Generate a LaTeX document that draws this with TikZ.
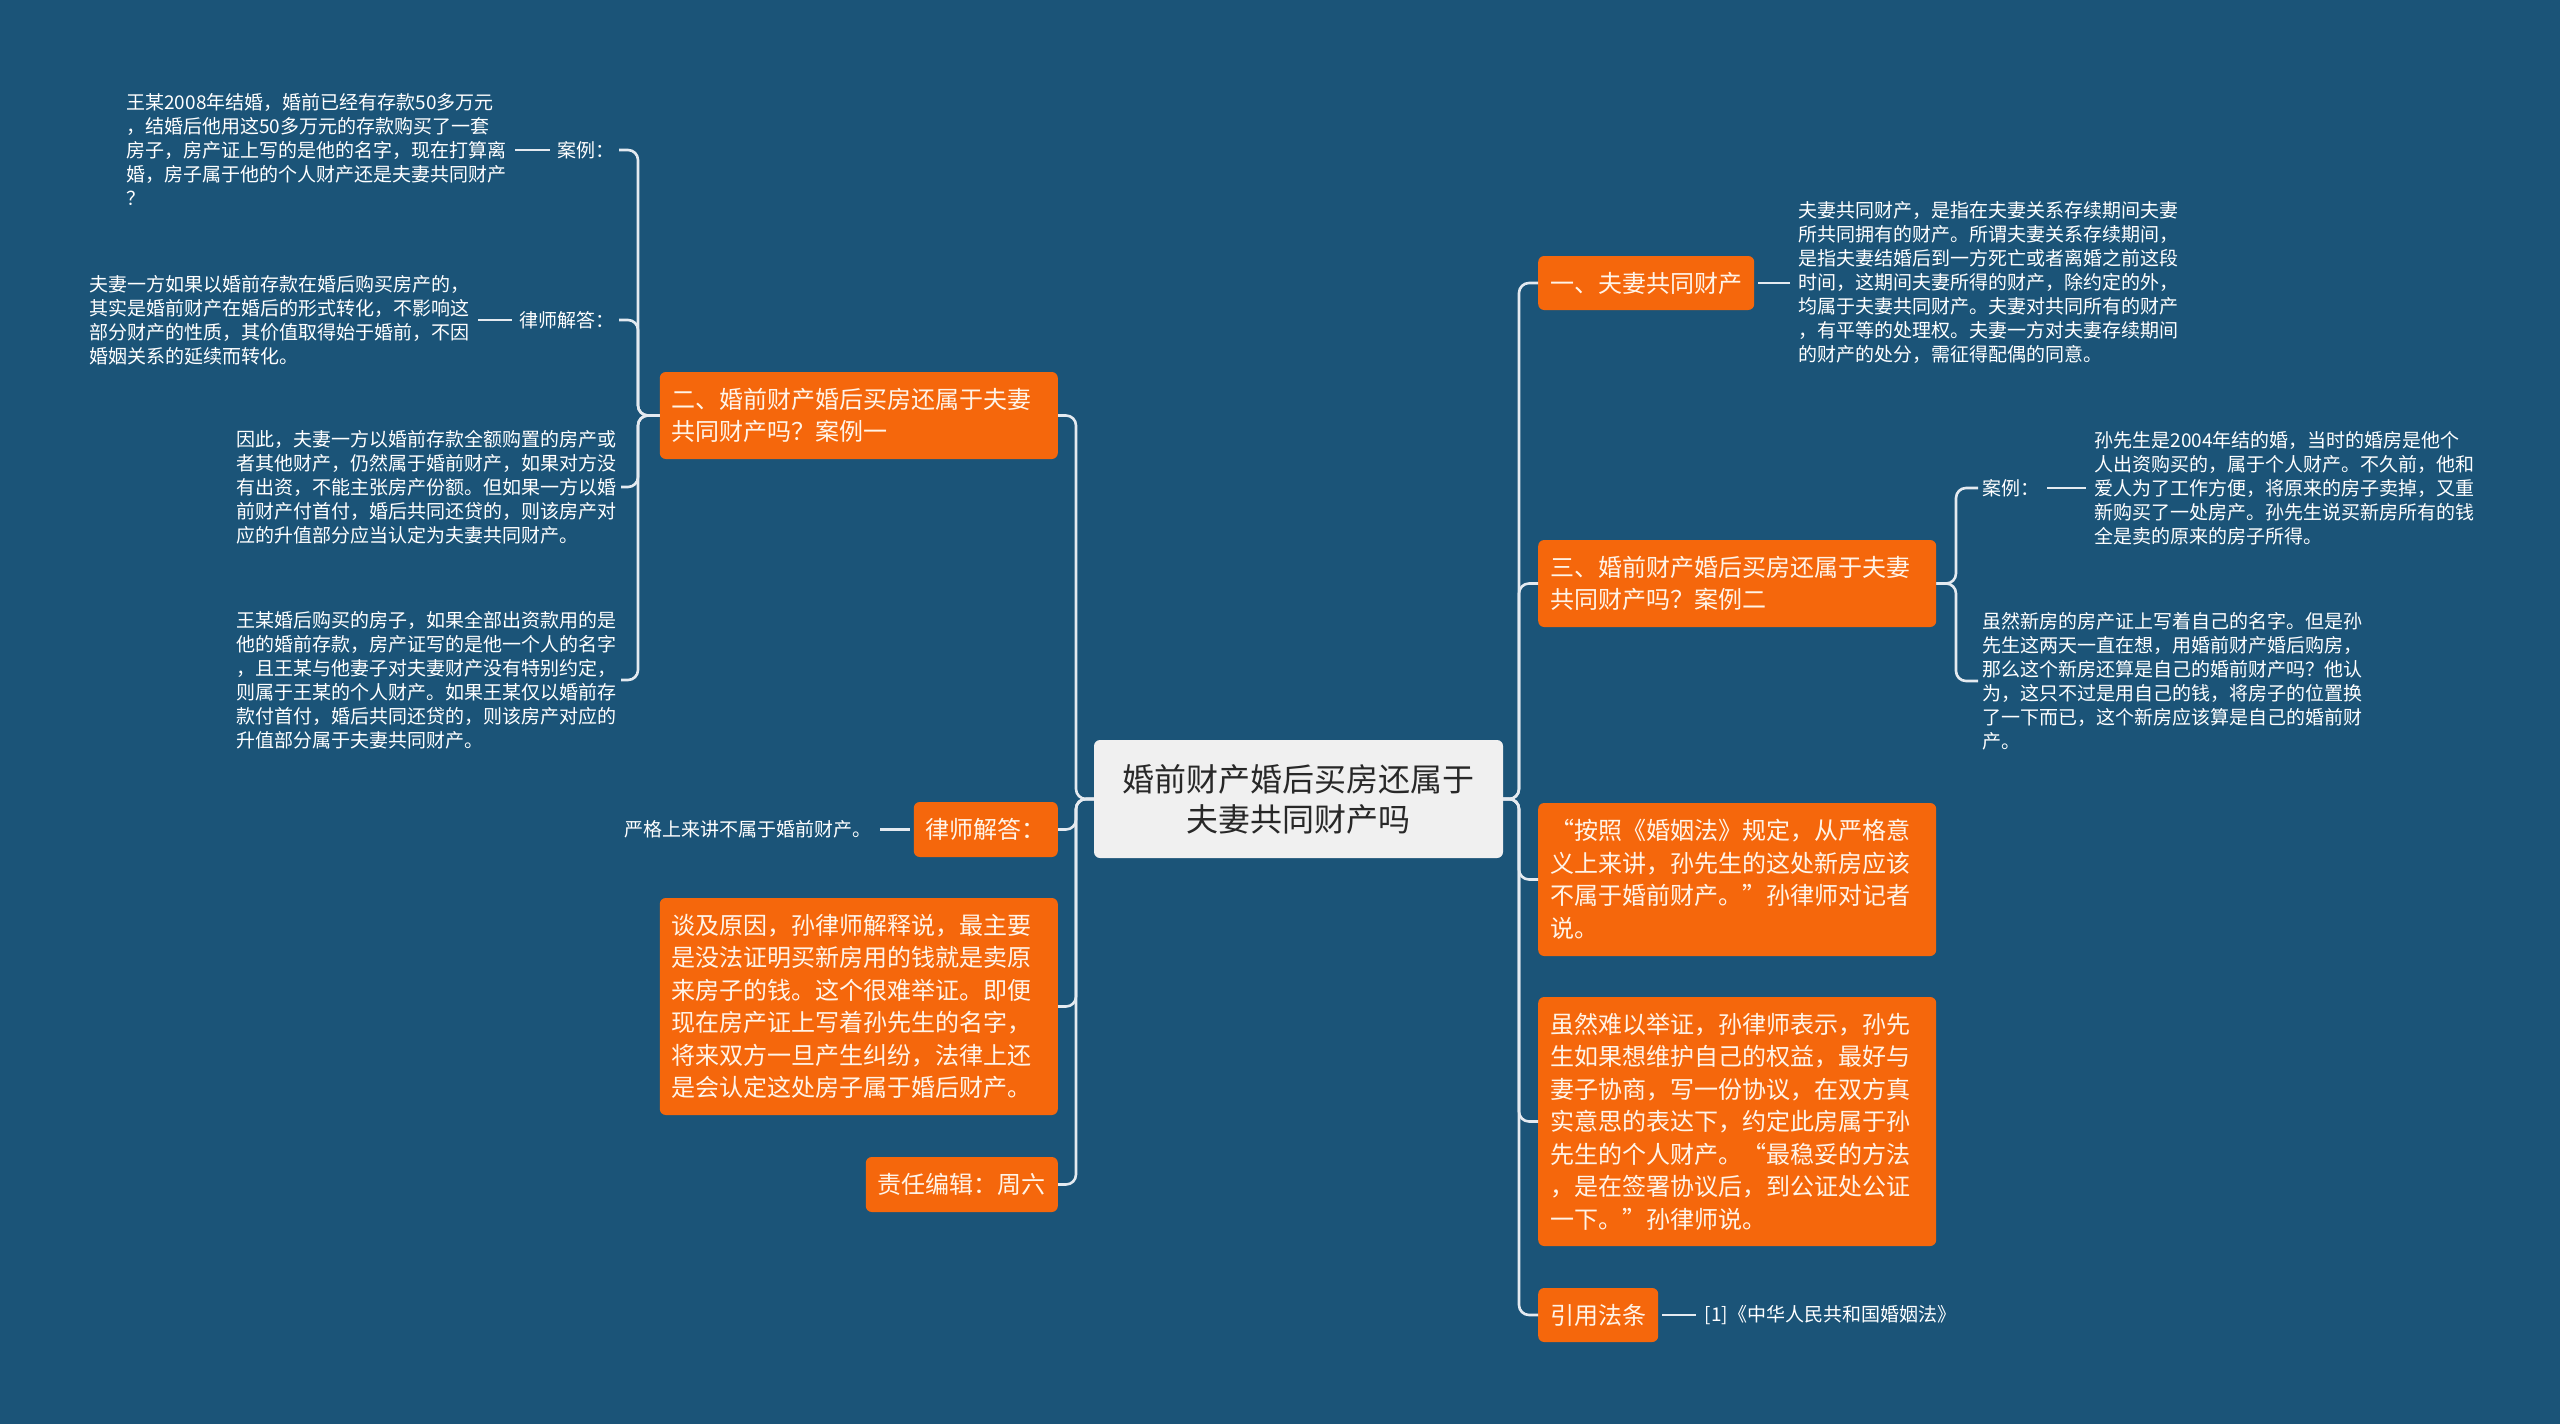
\documentclass[tikz,border=0pt]{standalone}
\usepackage{fontspec}
\newfontfamily\cjk{Noto Sans CJK SC}
\usepackage{tikz}
\usetikzlibrary{positioning}

\definecolor{bgblue}{RGB}{27,84,120}
\definecolor{oranfill}{RGB}{245,103,12}
\definecolor{rootfill}{RGB}{240,240,240}
\definecolor{roottext}{RGB}{40,40,40}
\definecolor{linegray}{RGB}{228,234,240}
\definecolor{cream}{RGB}{255,244,232}

\begin{document}
\begin{tikzpicture}[
  x=1pt, y=-1pt,
  root/.style={fill=rootfill, rounded corners=6pt, align=center, text=roottext,
               font=\cjk\fontsize{32}{40}\selectfont,
               minimum width=409pt, minimum height=118pt},
  obox/.style={fill=oranfill, rounded corners=6pt, text=cream, align=left,
               font=\cjk\fontsize{24}{32.5}\selectfont,
               inner xsep=12pt, inner ysep=8pt, minimum height=55pt},
  wide/.style={text width=374pt},
  note/.style={text=white, align=left, font=\cjk\fontsize{19}{24}\selectfont, inner sep=4pt},
  conn/.style={draw=linegray, line width=2.6pt, rounded corners=10pt},
  link/.style={conn, shorten <=4pt, shorten >=4pt}
]
  \fill[bgblue] (0,0) rectangle (2560,1424);

  \node[root] (title) at (1298.5,799) {婚前财产婚后买房还属于\\夫妻共同财产吗};

  % left side
  \node[obox, wide, anchor=east, minimum height=87pt] (case1) at (1058,415.5)
    {二、婚前财产婚后买房还属于夫妻\\共同财产吗？案例一};
  \node[obox, anchor=east] (lawyer) at (1058,829.5) {律师解答：};
  \node[obox, wide, anchor=east, minimum height=217pt] (reason) at (1058,1006.5)
    {谈及原因，孙律师解释说，最主要\\是没法证明买新房用的钱就是卖原\\来房子的钱。这个很难举证。即便\\现在房产证上写着孙先生的名字，\\将来双方一旦产生纠纷，法律上还\\是会认定这处房子属于婚后财产。};
  \node[obox, anchor=east] (editor) at (1058,1184.5) {责任编辑：周六};

  \node[note, anchor=east] (case1lab) at (619,150) {案例：};
  \node[note, left=43pt of case1lab] (case1txt)
    {王某2008年结婚，婚前已经有存款50多万元\\，结婚后他用这50多万元的存款购买了一套\\房子，房产证上写的是他的名字，现在打算离\\婚，房子属于他的个人财产还是夫妻共同财产\\？};
  \node[note, anchor=east] (ans1lab) at (619,320) {律师解答：};
  \node[note, left=42pt of ans1lab] (ans1txt)
    {夫妻一方如果以婚前存款在婚后购买房产的，\\其实是婚前财产在婚后的形式转化，不影响这\\部分财产的性质，其价值取得始于婚前，不因\\婚姻关系的延续而转化。};
  \node[note, anchor=east] (rule1) at (621,487)
    {因此，夫妻一方以婚前存款全额购置的房产或\\者其他财产，仍然属于婚前财产，如果对方没\\有出资，不能主张房产份额。但如果一方以婚\\前财产付首付，婚后共同还贷的，则该房产对\\应的升值部分应当认定为夫妻共同财产。};
  \node[note, anchor=east] (rule2) at (621,680)
    {王某婚后购买的房子，如果全部出资款用的是\\他的婚前存款，房产证写的是他一个人的名字\\，且王某与他妻子对夫妻财产没有特别约定，\\则属于王某的个人财产。如果王某仅以婚前存\\款付首付，婚后共同还贷的，则该房产对应的\\升值部分属于夫妻共同财产。};
  \node[note, left=38pt of lawyer] (strict) {严格上来讲不属于婚前财产。};

  % right side
  \node[obox, anchor=west, minimum height=54pt] (common) at (1538,283) {一、夫妻共同财产};
  \node[obox, wide, anchor=west, minimum height=87pt] (case2) at (1538,583.5)
    {三、婚前财产婚后买房还属于夫妻\\共同财产吗？案例二};
  \node[obox, wide, anchor=west, minimum height=153pt] (quote) at (1538,879.5)
    {“按照《婚姻法》规定，从严格意\\义上来讲，孙先生的这处新房应该\\不属于婚前财产。”孙律师对记者\\说。};
  \node[obox, wide, anchor=west, minimum height=249pt] (advice) at (1538,1121.5)
    {虽然难以举证，孙律师表示，孙先\\生如果想维护自己的权益，最好与\\妻子协商，写一份协议，在双方真\\实意思的表达下，约定此房属于孙\\先生的个人财产。“最稳妥的方法\\，是在签署协议后，到公证处公证\\一下。”孙律师说。};
  \node[obox, anchor=west, minimum height=54pt] (cite) at (1538,1315) {引用法条};

  \node[note, right=40pt of common] (commontxt)
    {夫妻共同财产，是指在夫妻关系存续期间夫妻\\所共同拥有的财产。所谓夫妻关系存续期间，\\是指夫妻结婚后到一方死亡或者离婚之前这段\\时间，这期间夫妻所得的财产，除约定的外，\\均属于夫妻共同财产。夫妻对共同所有的财产\\，有平等的处理权。夫妻一方对夫妻存续期间\\的财产的处分，需征得配偶的同意。};
  \node[note, anchor=west] (case2lab) at (1978,488) {案例：};
  \node[note, right=47pt of case2lab] (case2txt)
    {孙先生是2004年结的婚，当时的婚房是他个\\人出资购买的，属于个人财产。不久前，他和\\爱人为了工作方便，将原来的房子卖掉，又重\\新购买了一处房产。孙先生说买新房所有的钱\\全是卖的原来的房子所得。};
  \node[note, anchor=west] (doubt) at (1978,681)
    {虽然新房的房产证上写着自己的名字。但是孙\\先生这两天一直在想，用婚前财产婚后购房，\\那么这个新房还算是自己的婚前财产吗？他认\\为，这只不过是用自己的钱，将房子的位置换\\了一下而已，这个新房应该算是自己的婚前财\\产。};
  \node[note, right=42pt of cite] (law) {[1]《中华人民共和国婚姻法》};

  % branches
  \coordinate (lspine) at (1076,799);
  \coordinate (rspine) at (1519,799);
  \coordinate (c1spine) at (638,415.5);
  \coordinate (c2spine) at (1956,583.5);

  \foreach \n in {case1,lawyer,reason,editor}
    \draw[conn] (title.west) -- (lspine) |- (\n.east);
  \foreach \n in {common,case2,quote,advice,cite}
    \draw[conn] (title.east) -- (rspine) |- (\n.west);
  \foreach \n in {case1lab,ans1lab,rule1,rule2}
    \draw[conn] (case1.west) -- (c1spine) |- (\n.east);
  \foreach \n in {case2lab,doubt}
    \draw[conn] (case2.east) -- (c2spine) |- (\n.west);

  \draw[link] (case1lab.west) -- (case1txt.east);
  \draw[link] (ans1lab.west) -- (ans1txt.east);
  \draw[link] (lawyer.west) -- (strict.east);
  \draw[link] (common.east) -- (commontxt.west);
  \draw[link] (case2lab.east) -- (case2txt.west);
  \draw[link] (cite.east) -- (law.west);
\end{tikzpicture}
\end{document}
